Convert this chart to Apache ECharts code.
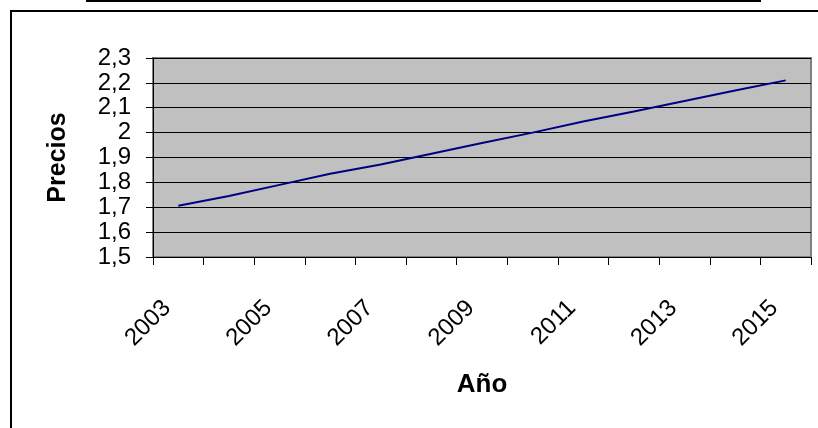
<!DOCTYPE html>
<html>
<head>
<meta charset="utf-8">
<title>Precios por año</title>
<script src="https://cdn.jsdelivr.net/npm/echarts@6/dist/echarts.min.js"></script>
<style>
  html, body { margin: 0; padding: 0; background: #ffffff; }
  #chart { width: 818px; height: 428px; }
</style>
</head>
<body>
<div id="chart"></div>
<script>
// Years on the category axis
const years = ['2003', '2004', '2005', '2006', '2007', '2008', '2009',
               '2010', '2011', '2012', '2013', '2014', '2015'];
// Price per year
const prices = [1.706, 1.745, 1.79, 1.835, 1.872, 1.915, 1.958,
                2.0, 2.045, 2.085, 2.127, 2.169, 2.21];
// Value axis range
const yMin = 1.5;
const yMax = 2.3;
const yStep = 0.1;

const FONT = '"Liberation Sans", Arial, sans-serif';

const chart = echarts.init(document.getElementById('chart'), null, { renderer: 'canvas' });

chart.setOption({
  animation: false,
  backgroundColor: '#ffffff',
  textStyle: { fontFamily: FONT },
  grid: {
    left: 153, top: 58, right: 7, bottom: 171,
    show: true,
    backgroundColor: '#c0c0c0',
    borderColor: '#808080',
    borderWidth: 2
  },
  graphic: [
    {
      type: 'line',
      shape: { x1: 86, y1: 1, x2: 761, y2: 1 },
      style: { stroke: '#000000', lineWidth: 2 }
    },
    {
      type: 'rect',
      shape: { x: 11, y: 11, width: 830, height: 440 },
      style: { fill: null, stroke: '#000000', lineWidth: 2 }
    }
  ],
  xAxis: {
    type: 'category',
    data: years,
    boundaryGap: true,
    name: 'Año',
    nameLocation: 'middle',
    nameGap: 115,
    nameTextStyle: { fontFamily: FONT, fontSize: 26, fontWeight: 'bold', color: '#000' },
    axisLine: { lineStyle: { color: '#000', width: 1 } },
    axisTick: { show: true, interval: 0, length: 8, lineStyle: { color: '#000' } },
    axisLabel: {
      interval: 1,
      rotate: 45,
      margin: 36,
      padding: [0, 16, 0, 0],
      fontFamily: FONT,
      fontSize: 24,
      color: '#000'
    },
    splitLine: { show: false }
  },
  yAxis: {
    type: 'value',
    min: yMin,
    max: yMax,
    interval: yStep,
    name: 'Precios',
    nameLocation: 'middle',
    nameRotate: 90,
    nameGap: 82,
    nameTextStyle: { fontFamily: FONT, fontSize: 25, fontWeight: 'bold', color: '#000' },
    axisLine: { show: true, lineStyle: { color: '#000', width: 1 } },
    axisTick: { show: true, length: 7, lineStyle: { color: '#000' } },
    axisLabel: {
      margin: 22,
      fontFamily: FONT,
      fontSize: 24,
      color: '#000',
      showMinLabel: true,
      showMaxLabel: true,
      hideOverlap: false,
      formatter: v => String(Number(v.toFixed(1))).replace('.', ',')
    },
    splitLine: { show: true, lineStyle: { color: '#000', width: 1 } }
  },
  series: [
    {
      type: 'line',
      data: prices,
      showSymbol: false,
      symbol: 'none',
      smooth: false,
      lineStyle: { color: '#000080', width: 2 },
      z: 5
    }
  ]
});
</script>
</body>
</html>
